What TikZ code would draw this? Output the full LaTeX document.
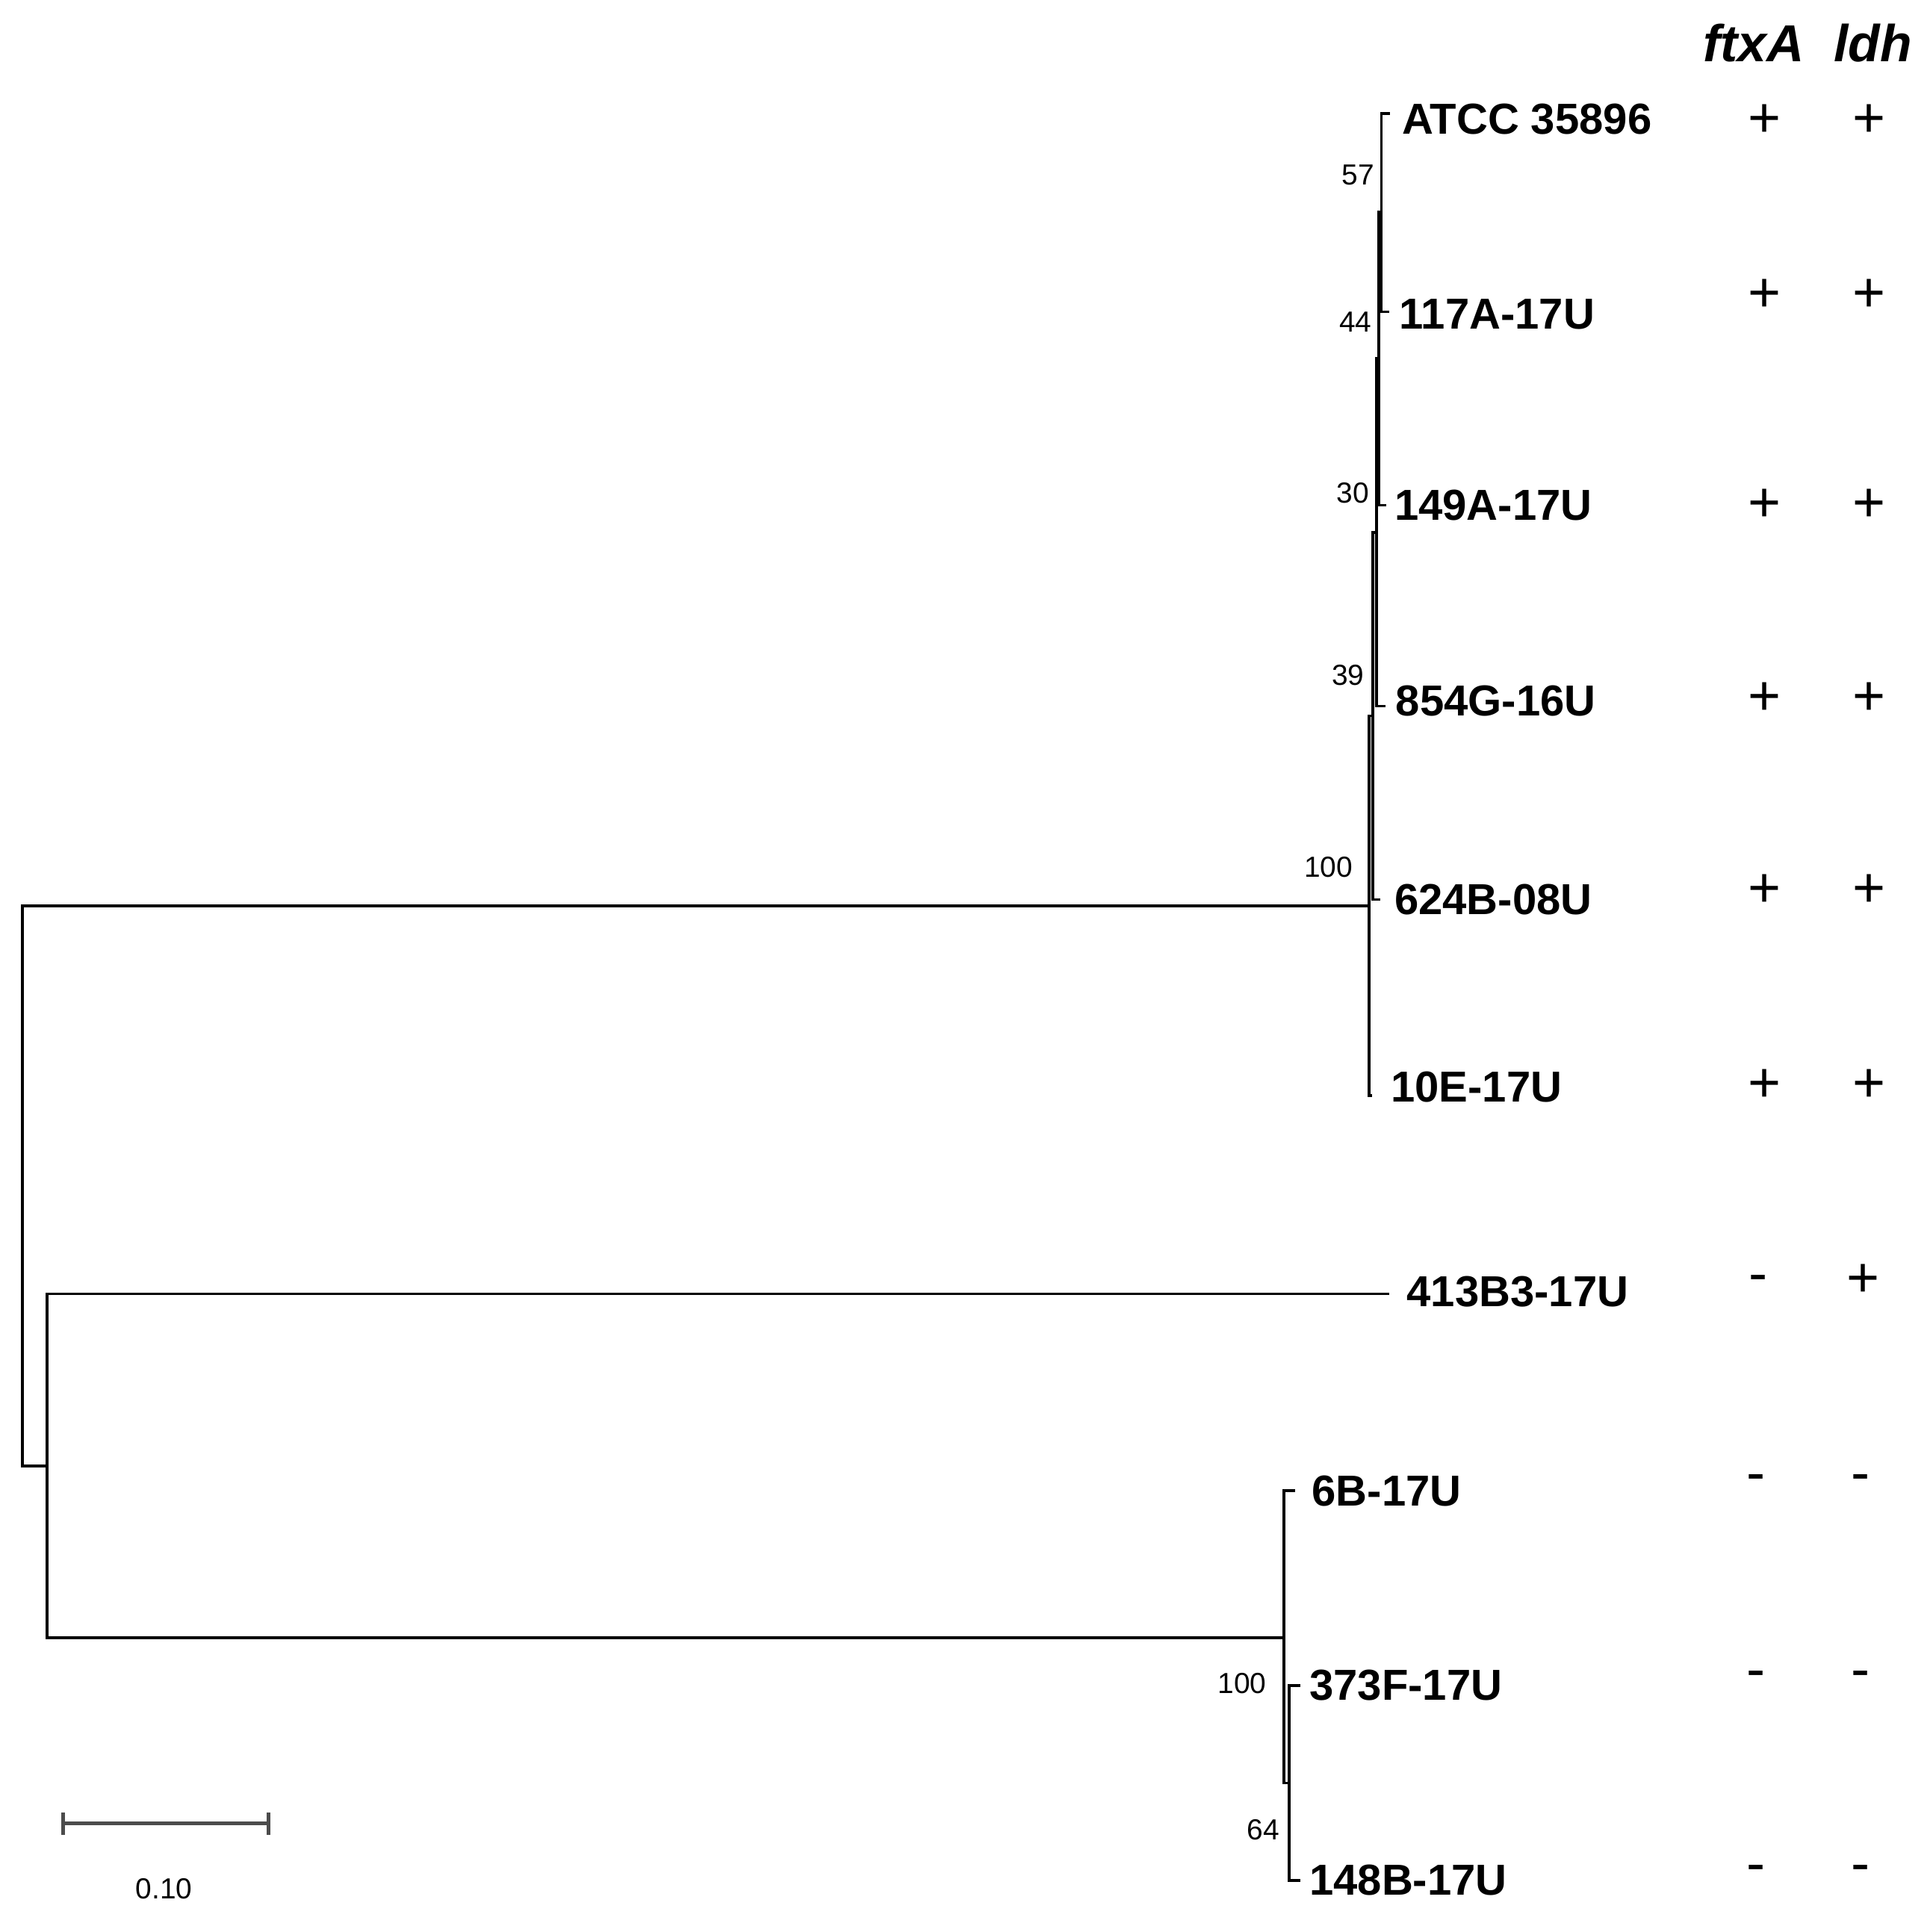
\documentclass[tikz,border=0pt]{standalone}
\usepackage{fontspec}
\setmainfont{Liberation Sans}
\begin{document}
\begin{tikzpicture}[x=0.01cm,y=-0.01cm,
  branch/.style={line width=0.65pt, black, line cap=rect},
  tiplabel/.style={anchor=west, inner sep=0pt, font=\fontsize{10}{12}\selectfont\bfseries},
  boot/.style={inner sep=0pt, font=\fontsize{6.7}{8}\selectfont},
  sign/.style={inner sep=0pt, font=\fontsize{13}{15}\selectfont},
  gene/.style={inner sep=0pt, font=\fontsize{12}{14}\selectfont\bfseries\itshape},
  scalebar/.style={line width=0.9pt, black!70}]
\useasboundingbox[fill=white] (0,0) rectangle (1566,1568);

% internal nodes
\coordinate (n1) at (1121,172);
\coordinate (n2) at (1119,291);
\coordinate (n3) at (1117,432);
\coordinate (n4) at (1114,581);
\coordinate (n5) at (1111,735);
\coordinate (r)  at (18,962);
\coordinate (n9) at (38,1190);
\coordinate (n6) at (1042,1329);
\coordinate (n7) at (1046,1447);

% tips
\coordinate (tATCC) at (1127,92);
\coordinate (t117) at (1126,253);
\coordinate (t149) at (1124,410);
\coordinate (t854) at (1123,573);
\coordinate (t624) at (1119,730);
\coordinate (t10E) at (1112,889);
\coordinate (t413) at (1126,1050);
\coordinate (t6B)  at (1050,1210);
\coordinate (t373) at (1054,1368);
\coordinate (t148) at (1054,1526);

% branches
\draw[branch] (n1) |- (tATCC);
\draw[branch] (n1) |- (t117);
\draw[branch] (n2) |- (n1);
\draw[branch] (n2) |- (t149);
\draw[branch] (n3) |- (n2);
\draw[branch] (n3) |- (t854);
\draw[branch] (n4) |- (n3);
\draw[branch] (n4) |- (t624);
\draw[branch] (n5) |- (n4);
\draw[branch] (n5) |- (t10E);
\draw[branch] (r) |- (n5);
\draw[branch] (r) |- (n9);
\draw[branch] (n9) |- (t413);
\draw[branch] (n9) |- (n6);
\draw[branch] (n6) |- (t6B);
\draw[branch] (n6) |- (n7);
\draw[branch] (n7) |- (t373);
\draw[branch] (n7) |- (t148);

% tip labels
\node[tiplabel] (lATCC) at (1137,97) {ATCC 35896};
\node[tiplabel] (l117) at (1135,255) {117A-17U};
\node[tiplabel] (l149) at (1131,410) {149A-17U};
\node[tiplabel] (l854) at (1132,569) {854G-16U};
\node[tiplabel] (l624) at (1131,730) {624B-08U};
\node[tiplabel] (l10E) at (1128,882) {10E-17U};
\node[tiplabel] (l413) at (1141,1048) {413B3-17U};
\node[tiplabel] (l6B)  at (1064,1210) {6B-17U};
\node[tiplabel] (l373) at (1062,1368) {373F-17U};
\node[tiplabel] (l148) at (1062,1526) {148B-17U};

% bootstrap values
\node[boot] (b57) at (1102,142) {57};
\node[boot] (b44) at (1100,261) {44};
\node[boot] (b30) at (1098,400) {30};
\node[boot] (b39) at (1094,548) {39};
\node[boot] (b100a) at (1078,704) {100};
\node[boot] (b100b) at (1008,1366) {100};
\node[boot] (b64) at (1025,1485) {64};

% gene headers
\node[gene] (hftx) at (1423,35) {ftxA};
\node[gene] (hldh) at (1520,35) {ldh};

% presence / absence
\node[sign] (s1a) at (1432,98) {+};
\node[sign] (s1b) at (1517,98) {+};
\node[sign] (s2a) at (1432,240) {+};
\node[sign] (s2b) at (1517,240) {+};
\node[sign] (s3a) at (1432,410) {+};
\node[sign] (s3b) at (1517,410) {+};
\node[sign] (s4a) at (1432,567) {+};
\node[sign] (s4b) at (1517,567) {+};
\node[sign] (s5a) at (1432,723) {+};
\node[sign] (s5b) at (1517,723) {+};
\node[sign] (s6a) at (1432,881) {+};
\node[sign] (s6b) at (1517,881) {+};
\node[sign] (s7a) at (1427,1042) {-};
\node[sign] (s7b) at (1512,1039) {+};
\node[sign] (s8a) at (1425,1204) {-};
\node[sign] (s8b) at (1510,1204) {-};
\node[sign] (s9a) at (1425,1363) {-};
\node[sign] (s9b) at (1510,1363) {-};
\node[sign] (s10a) at (1425,1521) {-};
\node[sign] (s10b) at (1510,1521) {-};

% scale bar
\coordinate (sb1) at (51,1480);
\coordinate (sb2) at (218,1480);
\draw[scalebar] (sb1) -- (sb2);
\draw[scalebar] (sb1) ++(0,-9) -- ++(0,18);
\draw[scalebar] (sb2) ++(0,-9) -- ++(0,18);
\node[boot] (sbl) at (133,1533) {0.10};
\end{tikzpicture}
\end{document}
